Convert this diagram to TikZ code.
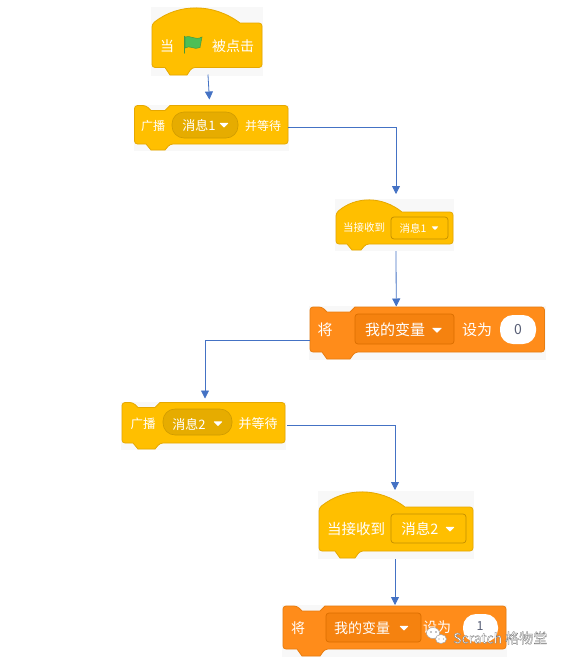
\documentclass[tikz,border=0pt]{standalone}
\usepackage{fontspec}
\setmainfont{Noto Sans CJK SC}
\usetikzlibrary{arrows.meta,calc}
\definecolor{ctl}{HTML}{FFBF00}
\definecolor{ctlb}{HTML}{E6A800}
\definecolor{ctld}{HTML}{E6AC00}
\definecolor{ctle}{HTML}{CF9B00}
\definecolor{vr}{HTML}{FF8C1A}
\definecolor{vrb}{HTML}{E87D10}
\definecolor{vrd}{HTML}{F5820F}
\definecolor{vre}{HTML}{DB6E00}
\definecolor{link}{HTML}{4472C4}
\definecolor{paper}{HTML}{F8F8F8}
\definecolor{flagfill}{HTML}{4CBF56}
\definecolor{flagline}{HTML}{45993D}
\definecolor{numtext}{HTML}{575E75}
\tikzset{
  x=1pt,y=-1pt,
  yblock/.style={fill=ctl,draw=ctlb,line width=.8pt,rounded corners=3pt},
  oblock/.style={fill=vr,draw=vrb,line width=.8pt,rounded corners=3pt},
  ypill/.style={fill=ctld,draw=ctle,line width=.6pt,rounded corners=12pt},
  ybox/.style={fill=ctl,draw=ctlb!85!black,line width=.7pt,rounded corners=3pt},
  obox/.style={fill=vrd,draw=vre,line width=.7pt,rounded corners=3pt},
  vpill/.style={fill=white,rounded corners=13pt},
  tag/.style={text=white,inner sep=0pt,font=\fontsize{#1}{#1}\selectfont},
  tag/.default=13,
  dark/.style={text=numtext,inner sep=0pt,font=\fontsize{#1}{#1}\selectfont},
  port/.style={inner sep=0pt,outer sep=0pt,minimum width=#1},
  link/.style={draw=link,line width=.8pt},
  flow/.style={link,-{Triangle[length=8pt,width=8pt]}},
}
% name, l, r, top, shoulder, bottom, notch-bottom, notch-r, hat-end (notch-l in \notchl)
\newcommand{\hatblock}[9]{%
  \fill[paper] (#2-1,#4-1) rectangle (#3+1,#7+1);
  \path[yblock] [sharp corners] (#2,#5+1)
     .. controls (#2+.3*#9-.3*#2,{#4-(#5-#4)/3}) and (#2+.7*#9-.7*#2,{#4-(#5-#4)/3}) .. (#9,#5)
     [rounded corners=3pt] -- (#3,#5) -- (#3,#6) -- (#8,#6)
     [sharp corners] -- (#8-5,#7) -- (\notchl+5,#7) -- (\notchl,#6)
     [rounded corners=3pt] -- (#2,#6) -- cycle;
  \node[port=#3-#2,minimum height=#7-#4] (#1) at ({(#2+#3)/2},{(#4+#7)/2}) {};
}
% name, l, r, top, bottom, notch-bottom, notch-l, notch-r, style
\newcommand{\stackblock}[9]{%
  \fill[paper] (#2-1,#4-1) rectangle (#3+1,#6+1);
  \path[#9] (#2,#4) -- (#7,#4)
     [sharp corners] -- (#7+5,#4+5) -- (#8-5,#4+5) -- (#8,#4)
     [rounded corners=3pt] -- (#3,#4) -- (#3,#5) -- (#8,#5)
     [sharp corners] -- (#8-5,#6) -- (#7+5,#6) -- (#7,#5)
     [rounded corners=3pt] -- (#2,#5) -- cycle;
  \node[port=#3-#2,minimum height=#6-#4] (#1) at ({(#2+#3)/2},{(#4+#6)/2}) {};
}
\newcommand{\menutri}[3]{\fill[white,rounded corners=.6pt] (#1-#3,#2-#3*.45) -- (#1+#3,#2-#3*.45) -- (#1,#2+#3*.6) -- cycle;}
\begin{document}
\begin{tikzpicture}
\useasboundingbox[fill=white] (0,0) rectangle (565,662);

% when flag clicked
\def\notchl{165}
\hatblock{hatA}{152}{262}{8}{23}{67.5}{75}{192}{240}
\node[tag=14] (a1) at (167,46) {当};
\fill[flagfill,draw=flagline,line width=.5pt] (185,37) .. controls (190,34.5) and (195,41) .. (202,37) -- (200,47.5) .. controls (194,50.5) and (190,44.5) .. (185,48) -- cycle;
\draw[flagline,line width=1.3pt,line cap=round] (184.5,36.5) -- (184.5,53);
\node[tag=14] (a2) at (233,46) {被点击};

% broadcast 1
\stackblock{castA}{134.5}{288}{105.5}{144}{150}{146}{170}{yblock}
\node[tag=12] (c1) at (153,125.5) {广播};
\path[ypill] (172,112) rectangle (238,138);
\node[tag=13] (c2) at (199,125.5) {消息1};
\menutri{224}{125}{4.5}
\node[tag=12] (c3) at (263,125.5) {并等待};

% receive 1
\def\notchl{347}
\hatblock{hatB}{336}{453}{200}{212}{244}{250}{366}{402}
\node[tag=10.5] (r1) at (364,228) {当接收到};
\path[ybox] (391,217) rectangle (448,239);
\node[tag=10.5] (r2) at (413,228) {消息1};
\menutri{435}{228}{3.5}

% set 0
\stackblock{setA}{310}{544.5}{307}{352}{359}{322}{355}{oblock}
\node[tag=15] (s1) at (325,330) {将};
\path[obox] (355,314) rectangle (454,344);
\node[tag=15] (s2) at (395,330) {我的变量};
\menutri{437}{330}{5}
\node[tag=15] (s3) at (477,330) {设为};
\path[vpill] (500,315) rectangle (536,344);
\node[dark=14] (s4) at (518,329.5) {0};

% broadcast 2
\stackblock{castB}{122}{285}{402.5}{443}{449}{133}{160}{yblock}
\node[tag=12.5] (d1) at (143,424) {广播};
\path[ypill] (163,409) rectangle (232,435);
\node[tag=13] (d2) at (189,424) {消息2};
\menutri{218}{423.5}{4.5}
\node[tag=13] (d3) at (258,424) {并等待};

% receive 2
\def\notchl{335}
\hatblock{hatC}{319}{473}{492}{507}{551}{558}{360}{405}
\node[tag=14.5] (q1) at (356,529) {当接收到};
\path[ybox] (391,514) rectangle (466,543);
\node[tag=14.5] (q2) at (420,529) {消息2};
\menutri{450}{529}{4.5}

% set 1
\stackblock{setB}{283}{506}{606}{649}{656}{297}{325}{oblock}
\node[tag=14] (t1) at (298,628) {将};
\path[obox] (326,613) rectangle (421,642);
\node[tag=14] (t2) at (362,628) {我的变量};
\menutri{404}{628}{4.5}
\node[tag=14] (t3) at (437,627) {设为};
\path[vpill] (463,614) rectangle (498,642);
\node[dark=12.5] (t4) at (480,626) {1};

% connectors
\draw[flow,shorten <=-.5pt,shorten >=6pt] ([xshift=1pt]hatA.south) -- ([xshift=-1.5pt]castA.north);
\draw[flow,shorten >=6pt] (castA.east) -| ([xshift=1.5pt]hatB.north);
\draw[flow,shorten <=1pt,shorten >=.5pt] ([xshift=1.5pt]hatB.south) -- ([xshift=-31pt]setA.north);
\draw[flow,shorten >=4pt] ([yshift=-7pt]setA.west) -| ([xshift=1.5pt]castB.north);
\draw[flow,shorten <=2pt,shorten >=2pt] (castB.east) -| ([xshift=-1pt]hatC.north);
\draw[flow,shorten <=1pt,shorten >=1pt] ([xshift=-1pt]hatC.south) -- ([xshift=.5pt]setB.north);

% watermark
\fill[white,draw=black!35,line width=.5pt] (433,633) ellipse (6.5 and 5.5);
\fill[white,draw=black!35,line width=.5pt] (441,639) ellipse (5.5 and 4.5);
\fill[black!45] (431,632) circle (.8) (436,632) circle (.8) (439,639) circle (.7) (443.5,639) circle (.7);
\node[inner sep=0pt,anchor=west,text=white,font=\fontsize{14}{14}\selectfont] (mark) at (453,638)
  {\special{pdf:code q 2 Tr 0.25 w 0.4 G 1 g}Scratch 格物堂\special{pdf:code Q 0 Tr}};
\end{tikzpicture}
\end{document}
